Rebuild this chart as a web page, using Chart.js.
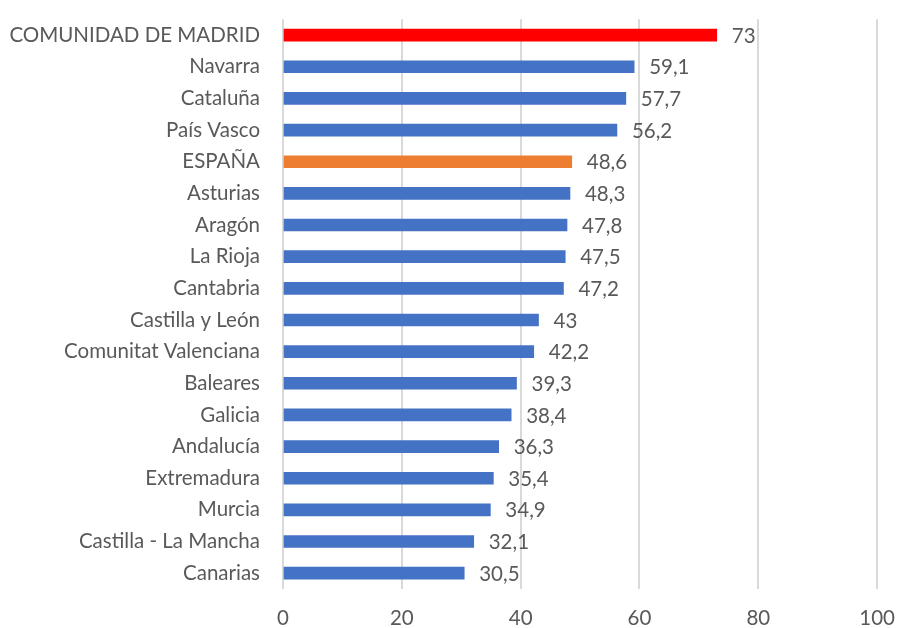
<!DOCTYPE html>
<html lang="es">
<head>
<meta charset="utf-8">
<title>Comunidades</title>
<script src="https://cdn.jsdelivr.net/npm/chart.js@4.4.0/dist/chart.umd.min.js"></script>
<style>
	html, body { margin: 0; padding: 0; background: #fff; overflow: hidden; width: 897px; height: 628px; position: relative; }
	/* canvas is a bit larger than the window so the plot area lines up with the original */
	#wrap { position: absolute; left: 0; top: -16px; width: 912px; height: 644px; }
</style>
</head>
<body>
<div id="wrap"><canvas id="chart"></canvas></div>
<script>
	const regions = ["COMUNIDAD DE MADRID","Navarra","Cataluña","País Vasco","ESPAÑA","Asturias","Aragón","La Rioja","Cantabria","Castilla y León","Comunitat Valenciana","Baleares","Galicia","Andalucía","Extremadura","Murcia","Castilla - La Mancha","Canarias"];
	const values = [73,59.1,57.7,56.2,48.6,48.3,47.8,47.5,47.2,43,42.2,39.3,38.4,36.3,35.4,34.9,32.1,30.5];
	const barColors = ["#FF0000","#4472C4","#4472C4","#4472C4","#ED7D31","#4472C4","#4472C4","#4472C4","#4472C4","#4472C4","#4472C4","#4472C4","#4472C4","#4472C4","#4472C4","#4472C4","#4472C4","#4472C4"];
	const xTicks = [0,20,40,60,80,100];

	const textColor = "#595959";
	const fontFamily = "Lato, 'Open Sans', sans-serif";

	// draws the value next to each bar end
	const valueLabels = {
		id: "valueLabels",
		afterDatasetsDraw(chart) {
			const ctx = chart.ctx;
			const meta = chart.getDatasetMeta(0);
			ctx.save();
			ctx.font = "20.5px " + fontFamily;
			ctx.fillStyle = textColor;
			ctx.textAlign = "left";
			ctx.textBaseline = "middle";
			meta.data.forEach(function (bar, i) {
				const txt = String(values[i]).replace(".", ",");
				ctx.fillText(txt, bar.x + 15, bar.y + 1);
			});
			ctx.restore();
		}
	};

	new Chart(document.getElementById("chart"), {
		type: "bar",
		data: {
			labels: regions,
			datasets: [{
				data: values,
				backgroundColor: barColors,
				barThickness: 12
			}]
		},
		options: {
			indexAxis: "y",
			responsive: true,
			maintainAspectRatio: false,
			animation: false,
			layout: { padding: { top: 1, right: 4, left: 0, bottom: 0 } },
			plugins: {
				legend: { display: false },
				tooltip: { enabled: false }
			},
			scales: {
				x: {
					min: 0,
					max: 100,
					afterBuildTicks: function (axis) {
						axis.ticks = xTicks.map(function (v) { return { value: v }; });
					},
					grid: { color: "#D9D9D9", lineWidth: 2, drawTicks: false },
					border: { display: false },
					ticks: { color: textColor, font: { family: fontFamily, size: 20.5 }, padding: 17 },
					afterFit: function (axis) { axis.height = 39; }
				},
				y: {
					grid: { display: false, drawTicks: false },
					border: { display: false },
					ticks: { color: textColor, font: { family: fontFamily, size: 20.5 }, padding: 23, autoSkip: false },
					afterFit: function (axis) { axis.width = 283; }
				}
			}
		},
		plugins: [valueLabels]
	});
</script>
</body>
</html>
